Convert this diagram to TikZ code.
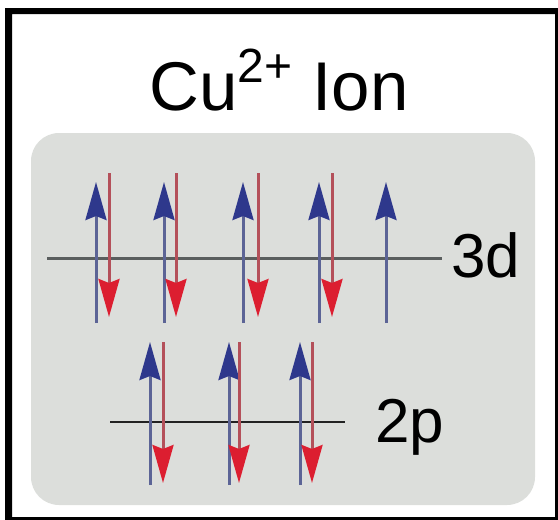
\documentclass[tikz,border=0pt]{standalone}
\usepackage{fontspec}
\setmainfont{Liberation Sans}
\usetikzlibrary{arrows.meta}
\definecolor{boxgray}{RGB}{220,222,219}
\definecolor{bluehead}{RGB}{46,56,140}
\definecolor{blueshaft}{RGB}{92,100,150}
\definecolor{redhead}{RGB}{220,30,48}
\definecolor{redshaft}{RGB}{180,80,90}
\definecolor{line3d}{RGB}{90,94,94}
\definecolor{line2p}{RGB}{34,34,34}
\tikzset{
  upspin/.style={draw=blueshaft, line width=3pt,
    -{Stealth[length=38pt,width=21pt,inset=4pt,color=bluehead]}},
  downspin/.style={draw=redshaft, line width=3pt,
    -{Stealth[length=38pt,width=21pt,inset=4pt,color=redhead]}},
  labeltext/.style={inner sep=0pt, anchor=base west, font=\fontsize{62}{74}\selectfont},
}
\begin{document}
\begin{tikzpicture}[x=1pt,y=-1pt]
\useasboundingbox (0,0) rectangle (558,520);
% frame
\fill[black, even odd rule] (5,8) rectangle (558,520) (12,14) rectangle (555,517);
% title
\node[inner sep=0pt, anchor=base, font=\fontsize{69}{80}\selectfont] (title) at (279,110) {Cu\raisebox{0.40em}{\fontsize{48}{54}\selectfont 2+}\hspace{0.02em} Ion};
% gray panel
\fill[boxgray, rounded corners=28pt] (31,133) rectangle (535,505);
% levels
\draw[line3d, line width=3pt] (47,258) coordinate (l3a) -- (442,258) coordinate (l3b);
\draw[line2p, line width=2.5pt] (110,422) coordinate (l2a) -- (345,422) coordinate (l2b);
\node[labeltext] (lab3d) at (451,277) {3d};
\node[labeltext] (lab2p) at (375,442) {2p};
% 3d spins
\foreach \x in {96,164,243,319,386} \draw[upspin] (\x,323) -- (\x,182);
\foreach \x in {109,176,258,332} \draw[downspin] (\x,173) -- (\x,317);
% 2p spins
\foreach \x in {150,229,300} \draw[upspin] (\x,485) -- (\x,342);
\foreach \x in {163,239,312} \draw[downspin] (\x,342) -- (\x,483);
\end{tikzpicture}
\end{document}
